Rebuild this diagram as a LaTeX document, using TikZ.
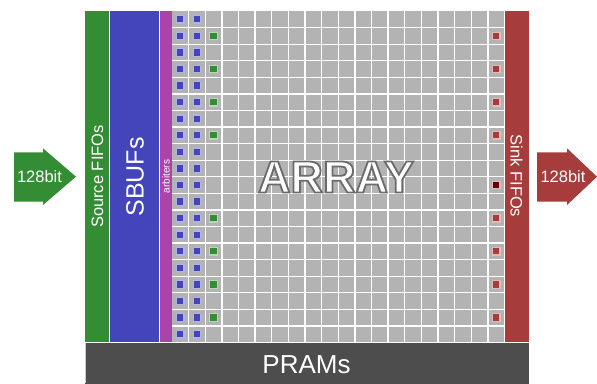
\documentclass[tikz,border=0pt]{standalone}
\usepackage{fontspec}
\setmainfont{Liberation Sans}
\usetikzlibrary{calc}
\definecolor{srcg}{RGB}{52,140,52}
\definecolor{sbufb}{RGB}{68,68,187}
\definecolor{arbm}{RGB}{170,68,170}
\definecolor{sinkr}{RGB}{166,60,60}
\definecolor{dkred}{RGB}{100,0,0}
\definecolor{pramg}{RGB}{77,77,77}
\definecolor{cellg}{RGB}{179,179,179}
\begin{document}
\begin{tikzpicture}[x=1pt,y=-1pt,
  block/.style={rectangle,inner sep=0pt,outer sep=0pt,draw=none},
  lbl/.style={text=white,inner sep=0pt,font=\fontsize{16.5}{18}\selectfont},
  pe/.style={rectangle,inner sep=0pt,outer sep=0pt,minimum size=7.5pt,line width=1.2pt},
  bluepe/.style={pe,fill=sbufb,draw=white!60!sbufb},
  greenpe/.style={pe,fill=srcg,draw=white!65!srcg},
  redpe/.style={pe,fill=sinkr,draw=white!65!sinkr},
  dredpe/.style={pe,fill=dkred,draw=white!65!sinkr}]
\useasboundingbox (0,0) rectangle (597,383);
% blocks
\node[block,fill=srcg,minimum width=24.5pt,minimum height=331.5pt,anchor=north west] (src) at (85,11) {};
\node[block,fill=sbufb,minimum width=49.5pt,minimum height=331.5pt,anchor=north west] (sbuf) at (110,11) {};
\node[block,fill=arbm,minimum width=11.5pt,minimum height=331.5pt,anchor=north west] (arb) at (160,11) {};
\node[block,fill=cellg,minimum width=332.5pt,minimum height=331.5pt,anchor=north west] (array) at (172,11) {};
\node[block,fill=sinkr,minimum width=23.5pt,minimum height=331.5pt,anchor=north west] (sink) at (505,11) {};
\node[block,fill=pramg,minimum width=443.5pt,minimum height=40.5pt,anchor=north west] (pram) at (85,343) {};
% separators
\draw[white,line width=1pt] (109.75,11) -- (109.75,342.5);
\draw[white,line width=1pt] (159.75,11) -- (159.75,342.5);
\draw[white,line width=1pt] (504.75,11) -- (504.75,342.5);
\draw[white,line width=1pt] (85,342.75) -- (528.5,342.75);
\draw[white!70!pramg,line width=0.8pt] (85.2,343) -- (85.2,383);
% grid
\foreach \k in {1,...,19} {
  \draw[white,line width=1.3pt] ({172+16.625*\k},11) -- ({172+16.625*\k},342.5);
  \draw[white,line width=1.3pt] (172,{11+16.575*\k}) -- (504.5,{11+16.575*\k});
}
% processing elements
\foreach \r in {0,...,19} {
  \node[bluepe] (b0r\r) at ({172+16.625*0.5},{11+16.575*(\r+0.5)}) {};
  \node[bluepe] (b1r\r) at ({172+16.625*1.5},{11+16.575*(\r+0.5)}) {};
}
\foreach \r in {1,3,5,7,12,14,16,18} {
  \node[greenpe] (g\r) at ({172+16.625*2.5},{11+16.575*(\r+0.5)}) {};
  \node[redpe] (rd\r) at ({172+16.625*19.5},{11+16.575*(\r+0.5)}) {};
}
\node[dredpe] (rd10) at ({172+16.625*19.5},{11+16.575*10.5}) {};
% labels
\node[lbl,rotate=90] (srct) at (97.5,176.5) {Source FIFOs};
\node[lbl,rotate=90,font=\fontsize{25}{28}\selectfont] (sbuft) at (135,177) {SBUFs};
\node[lbl,rotate=90,font=\fontsize{10}{12}\selectfont] (arbt) at (166,176.5) {arbiters};
\node[lbl,rotate=-90] (sinkt) at (516.5,176) {Sink FIFOs};
\node[lbl,font=\fontsize{26}{30}\selectfont] (pramt) at (306.5,365) {PRAMs};
% ARRAY outlined text (text render mode: fill and stroke)
\node[inner sep=0pt,text=white,font=\fontsize{45}{48}\selectfont\bfseries] (arrayt) at (336,177)
  {\special{pdf:code 2 Tr 1.8 w 0.42 0.42 0.42 RG 1 1 1 rg}ARRAY\special{pdf:code 0 Tr}};
% arrows
\fill[srcg] (14,152.3) -- (43,152.3) -- (43,148.3) -- (76,176.7) -- (43,205) -- (43,201.7) -- (14,201.7) -- cycle;
\node[lbl] (inlbl) at (39.5,176.5) {128bit};
\fill[sinkr] (537,152.3) -- (567,152.3) -- (567,148.3) -- (597,176.7) -- (567,205) -- (567,201.7) -- (537,201.7) -- cycle;
\node[lbl] (outlbl) at (563,176.5) {128bit};
\end{tikzpicture}
\end{document}
